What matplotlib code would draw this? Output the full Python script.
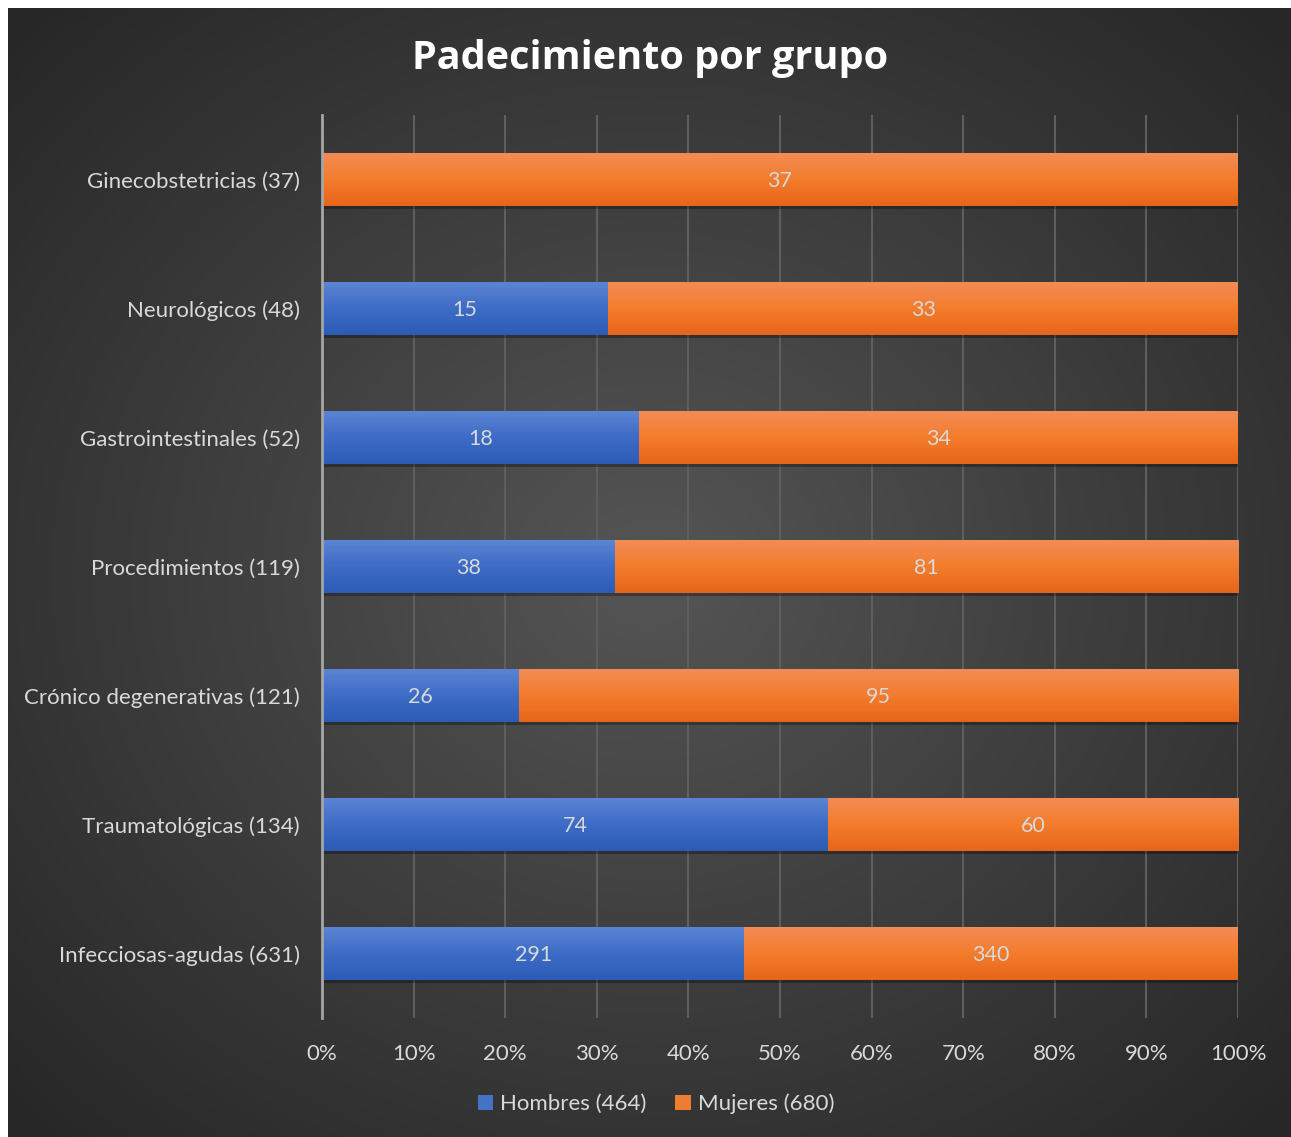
import numpy as np
import matplotlib.pyplot as plt
import matplotlib.patheffects as pe
from matplotlib.colors import LinearSegmentedColormap

plt.rcParams['font.family'] = ['Lato', 'DejaVu Sans']

# data, bottom to top
categorias = ["Infecciosas-agudas (631)", "Traumatológicas (134)", "Crónico degenerativas (121)",
              "Procedimientos (119)", "Gastrointestinales (52)", "Neurológicos (48)",
              "Ginecobstetricias (37)"]
hombres = [291, 74, 26, 38, 18, 15, 0]
mujeres = [340, 60, 95, 81, 34, 33, 37]
series = ["Hombres (464)", "Mujeres (680)"]
ticks = [0, 10, 20, 30, 40, 50, 60, 70, 80, 90, 100]

txt = "#d9d9d9"

fig = plt.figure(figsize=(12.91, 11.37), dpi=100)
fig.patch.set_facecolor("white")

# radial gradient background
bg = fig.add_axes([8 / 1291, 0, 1 - 8 / 1291, 1 - 8 / 1137])
bg.set_axis_off()
yy, xx = np.mgrid[-1:1:400j, -1:1:400j]
r = np.sqrt(xx ** 2 + yy ** 2) / np.sqrt(2)
bg_cmap = LinearSegmentedColormap.from_list("bg", ["#555555", "#262626"])
bg.imshow(r, cmap=bg_cmap, aspect="auto", extent=[0, 1, 0, 1], vmin=0, vmax=1)
bg.set_xlim(0, 1)
bg.set_ylim(0, 1)

ax = fig.add_axes([322 / 1291, 119 / 1137, 916 / 1291, 903 / 1137])
ax.set_facecolor("none")

tot = np.array(hombres) + np.array(mujeres)
ph = np.array(hombres) / tot * 100
pm = np.array(mujeres) / tot * 100
y = np.arange(len(categorias))

blue_cmap = LinearSegmentedColormap.from_list("b", ["#2d5cb6", "#3d6cc6", "#5b84d3"])
orange_cmap = LinearSegmentedColormap.from_list("o", ["#e6651a", "#f47c2c", "#f28c55"])
shadow = [pe.SimplePatchShadow(offset=(1.5, -2.5), shadow_rgbFace="black", alpha=0.3), pe.Normal()]

b1 = ax.barh(y, ph, height=0.405, color="#4472c4", label=series[0], zorder=3, path_effects=shadow)
b2 = ax.barh(y, pm, left=ph, height=0.405, color="#ed7d31", label=series[1], zorder=3, path_effects=shadow)

grad = np.linspace(0, 1, 100).reshape(-1, 1)
for bars, cmap in [(b1, blue_cmap), (b2, orange_cmap)]:
    for p in bars:
        if p.get_width() <= 0:
            continue
        x0, y0 = p.get_x(), p.get_y()
        im = ax.imshow(grad, cmap=cmap, aspect="auto", origin="lower",
                       extent=[x0, x0 + p.get_width(), y0, y0 + p.get_height()], zorder=3.5)
        im.set_clip_path(p)

for i in range(len(categorias)):
    if hombres[i] > 0:
        ax.text(ph[i] / 2, y[i] - 0.01, str(hombres[i]), ha="center", va="center", color=txt, fontsize=15.5, zorder=5)
    ax.text(ph[i] + pm[i] / 2, y[i] - 0.01, str(mujeres[i]), ha="center", va="center", color=txt, fontsize=15.5, zorder=5)

ax.set_xlim(0, 100)
ax.set_ylim(-0.5, len(categorias) - 0.5)
ax.set_xticks(ticks)
ax.set_xticklabels([f"{t}%" for t in ticks])
ax.set_yticks(y)
ax.set_yticklabels(categorias)
ax.tick_params(axis="both", length=0, colors=txt, labelsize=16)
ax.tick_params(axis="x", pad=19)
ax.tick_params(axis="y", pad=16)
ax.grid(axis="x", color="#5e5e5e", linewidth=1.5, zorder=0)
ax.set_axisbelow(True)
for s in ["top", "right", "bottom"]:
    ax.spines[s].set_visible(False)
ax.spines["left"].set_color("#a6a6a6")
ax.spines["left"].set_linewidth(2)
ax.spines["left"].set_zorder(4)

fig.text(650 / 1291, 1 - 59 / 1137, "Padecimiento por grupo", ha="center", va="center",
         color="white", fontsize=28.5, fontweight="bold", family=["Open Sans", "DejaVu Sans"])

leg = fig.legend(handles=[b1, b2], labels=series, loc="center", bbox_to_anchor=(656 / 1291, 1 - 1104 / 1137),
                 ncol=2, frameon=False, fontsize=16, labelcolor=txt, handlelength=0.7, handleheight=0.7,
                 handletextpad=0.3, columnspacing=1.3)
for h in leg.legend_handles:
    h.set_path_effects([])

fig.savefig("out.png", dpi=100, facecolor=fig.get_facecolor())
